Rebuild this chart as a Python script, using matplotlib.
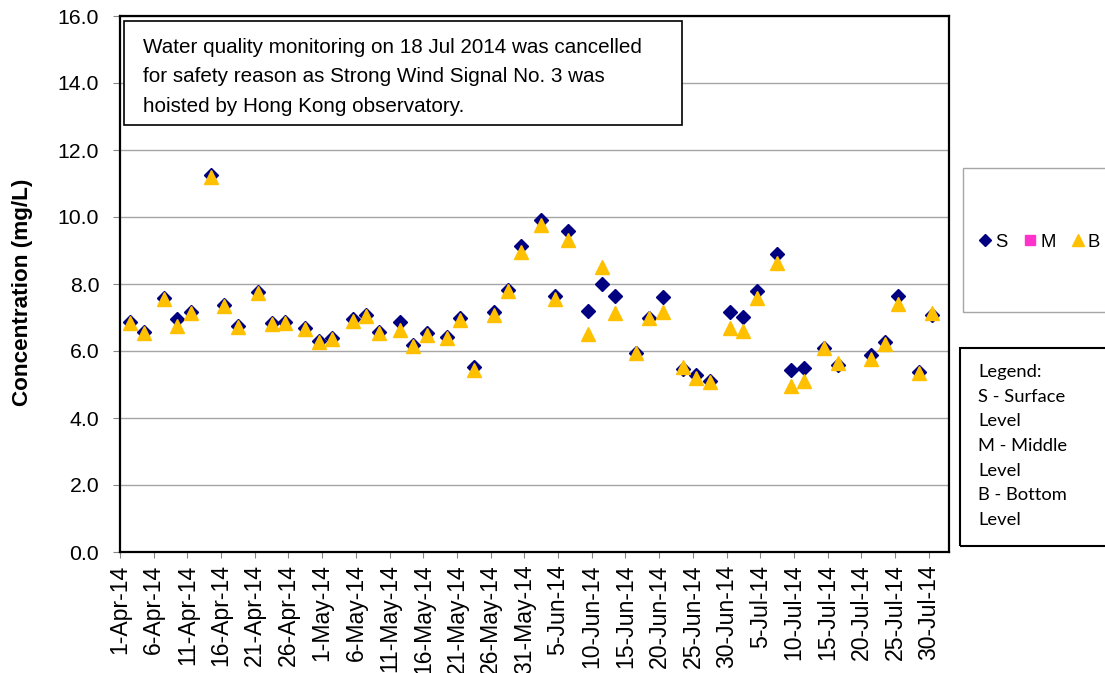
import numpy as np
import matplotlib
matplotlib.use('Agg')
import matplotlib.pyplot as plt
from matplotlib.patches import Rectangle

plt.rcParams['font.family'] = ['Liberation Sans', 'DejaVu Sans']

# sampling days (Mon/Wed/Fri), 18 Jul cancelled
dates = ['2014-04-02', '2014-04-04', '2014-04-07', '2014-04-09', '2014-04-11',
         '2014-04-14', '2014-04-16', '2014-04-18', '2014-04-21', '2014-04-23',
         '2014-04-25', '2014-04-28', '2014-04-30', '2014-05-02', '2014-05-05',
         '2014-05-07', '2014-05-09', '2014-05-12', '2014-05-14', '2014-05-16',
         '2014-05-19', '2014-05-21', '2014-05-23', '2014-05-26', '2014-05-28',
         '2014-05-30', '2014-06-02', '2014-06-04', '2014-06-06', '2014-06-09',
         '2014-06-11', '2014-06-13', '2014-06-16', '2014-06-18', '2014-06-20',
         '2014-06-23', '2014-06-25', '2014-06-27', '2014-06-30', '2014-07-02',
         '2014-07-04', '2014-07-07', '2014-07-09', '2014-07-11', '2014-07-14',
         '2014-07-16', '2014-07-21', '2014-07-23', '2014-07-25', '2014-07-28',
         '2014-07-30']
surface = [6.87, 6.57, 7.58, 6.96, 7.15, 11.26, 7.38, 6.74, 7.75, 6.84,
           6.88, 6.70, 6.31, 6.39, 6.95, 7.06, 6.57, 6.88, 6.18, 6.53,
           6.42, 6.99, 5.52, 7.17, 7.83, 9.12, 9.92, 7.63, 9.57, 7.20,
           8.01, 7.65, 5.94, 6.98, 7.61, 5.46, 5.27, 5.11, 7.17, 7.01,
           7.80, 8.90, 5.44, 5.48, 6.09, 5.58, 5.87, 6.28, 7.63, 5.36,
           7.07]
middle = []
bottom = [6.84, 6.53, 7.55, 6.76, 7.13, 11.20, 7.35, 6.72, 7.72, 6.80,
          6.85, 6.66, 6.28, 6.35, 6.90, 7.03, 6.53, 6.64, 6.14, 6.48,
          6.38, 6.93, 5.43, 7.08, 7.79, 8.97, 9.76, 7.56, 9.32, 6.50,
          8.51, 7.12, 5.95, 6.99, 7.17, 5.52, 5.18, 5.06, 6.70, 6.59,
          7.57, 8.63, 4.97, 5.09, 6.08, 5.63, 5.77, 6.22, 7.41, 5.34,
          7.12]

tick_start, tick_end = '2014-04-01', '2014-07-30'
note_lines = ['Water quality monitoring on 18 Jul 2014 was cancelled',
              'for safety reason as Strong Wind Signal No. 3 was',
              'hoisted by Hong Kong observatory.']
key_lines = ['Legend:', 'S - Surface', 'Level', 'M - Middle', 'Level',
             'B - Bottom', 'Level']

W, H = 1105, 673
fig = plt.figure(figsize=(W / 100, H / 100), dpi=100)


def fx(px):
    return px / W


def fy(py):
    return 1 - py / H


ax = fig.add_axes([fx(120), fy(552), fx(949) - fx(120), fy(16) - fy(552)])

# Excel date axis puts points in the middle of the day
x = np.array(dates, dtype='datetime64[h]') + np.timedelta64(12, 'h')
xm = np.array(dates[:len(middle)], dtype='datetime64[h]')

ls, = ax.plot(x, surface, 'D', color='#000080', ms=6.8, mec='#000080', ls='none', label='S')
lm, = ax.plot(xm, middle, 's', color='#FF33CC', ms=9, ls='none', label='M')
lb, = ax.plot(x, bottom, '^', color='#FFC000', ms=10.5, mec='#FFC000', ls='none', label='B')

ax.set_ylim(0, 16)
ax.set_yticks(np.arange(0, 16.1, 2))
ax.set_yticklabels(['%.1f' % v for v in np.arange(0, 16.1, 2)])
ax.yaxis.grid(True, color='#A6A6A6', lw=1)
ax.set_axisbelow(True)

ticks = np.arange(np.datetime64(tick_start), np.datetime64(tick_end) + 1, 5)
ax.set_xlim(np.datetime64('2014-04-01'), np.datetime64('2014-08-02'))
ax.set_xticks(ticks)
labels = []
for t in ticks.astype(object):
    labels.append('%d-%s' % (t.day, t.strftime('%b-%y')))
ax.set_xticklabels(labels, rotation=90)

for s in ax.spines.values():
    s.set_color('black')
    s.set_linewidth(1.6)
ax.tick_params(axis='y', direction='out', length=5, color='#868686', pad=10, labelsize=15.3)
ax.tick_params(axis='x', direction='out', length=4, color='#868686', pad=5, labelsize=16.6)

fig.text(fx(23), fy(292), 'Concentration (mg/L)', rotation=90, ha='center', va='center',
         fontsize=16.2, fontweight='bold')

# note box
fig.add_artist(Rectangle((fx(124), fy(125)), fx(682) - fx(124), fy(21) - fy(125),
                         transform=fig.transFigure, fill=True, fc='white', ec='black', lw=1.2))
for i, line in enumerate(note_lines):
    fig.text(fx(143), fy(53 + 29.5 * i), line, fontsize=14.9, va='baseline', ha='left')

# series legend
fig.add_artist(Rectangle((fx(963), fy(312)), fx(1120) - fx(963), fy(168) - fy(312),
                         transform=fig.transFigure, fill=False, ec='#A6A6A6', lw=1, clip_on=False))
fig.legend(handles=[ls, lm, lb], loc='center left', bbox_to_anchor=(fx(978), fy(242)),
           ncol=3, frameon=False, fontsize=13.3, handlelength=0.8, handletextpad=0.15,
           columnspacing=0.8, borderpad=0, borderaxespad=0, markerscale=0.85)

# key box
fig.add_artist(Rectangle((fx(959.5), fy(546)), fx(1120) - fx(959.5), fy(348) - fy(546),
                         transform=fig.transFigure, fill=False, ec='black', lw=1.5, clip_on=False))
for i, line in enumerate(key_lines):
    fig.text(fx(978), fy(377 + 24.7 * i), line, fontsize=13.2, va='baseline', ha='left',
             family=['Lato', 'DejaVu Sans'])

fig.savefig('out.png', dpi=100)
